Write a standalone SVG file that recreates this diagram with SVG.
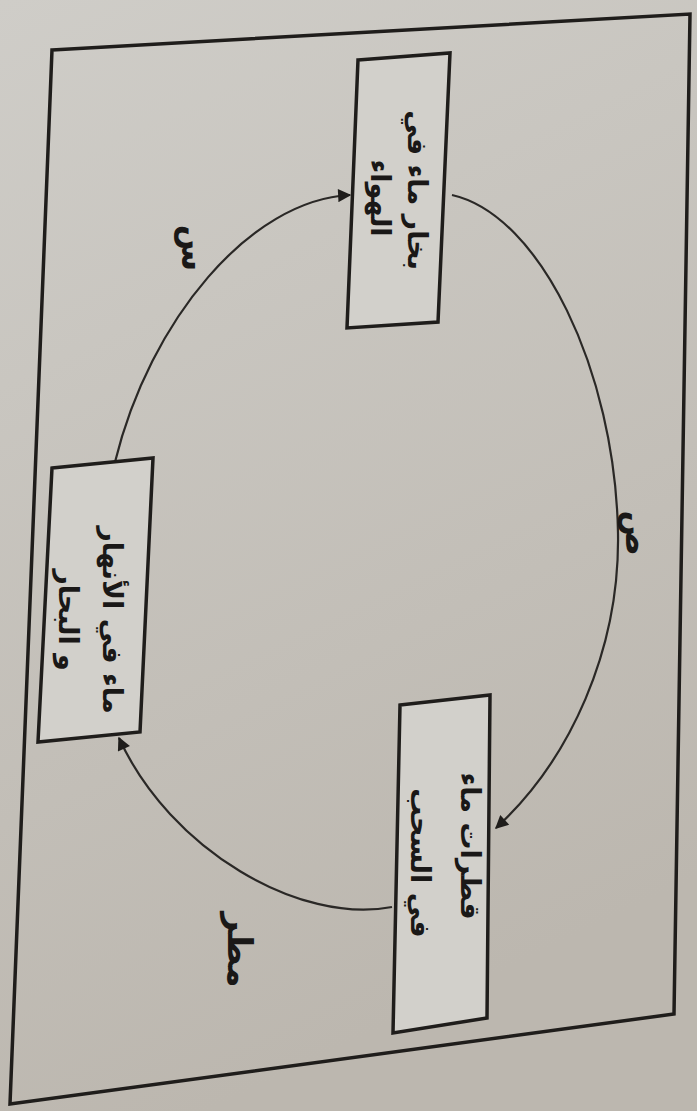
<svg xmlns="http://www.w3.org/2000/svg" width="697" height="1111" viewBox="0 0 697 1111">
<defs>
<linearGradient id="bg" x1="0" y1="0" x2="0.3" y2="1">
<stop offset="0" stop-color="#cfcdc8"/>
<stop offset="1" stop-color="#bcb7af"/>
</linearGradient>
<marker id="ah" viewBox="0 0 10 10" refX="9" refY="5" markerWidth="7" markerHeight="6" orient="auto" markerUnits="strokeWidth">
<path d="M0,0 L10,5 L0,10 z" fill="#1f1d1b"/>
</marker>
<style>
.frame{fill:none;stroke:#1f1d1b;stroke-width:3.5;stroke-linejoin:miter}
.box{fill:#d2d0cb;stroke:#1f1d1b;stroke-width:3.5}
.arc{fill:none;stroke:#2a2826;stroke-width:2.2}
.t{font-family:"DejaVu Sans",sans-serif;font-weight:bold;font-size:27px;fill:#1a1817;text-anchor:middle;dominant-baseline:central}
.lbl{font-family:"DejaVu Sans",sans-serif;font-weight:bold;font-size:34px;fill:#1a1817;text-anchor:middle;dominant-baseline:central}
</style>
</defs>
<rect width="697" height="1111" fill="url(#bg)"/>
<polygon class="frame" points="52,50 690,14 674,1014 10,1104"/>
<g id="connectors">
<path class="arc" d="M115,462 C150,320 250,200 350,195" marker-end="url(#ah)"/>
<path class="arc" d="M452,195 C540,215 615,370 618,533 C620,650 570,760 496,828" marker-end="url(#ah)"/>
<path class="arc" d="M392,907 C300,925 170,850 119,738" marker-end="url(#ah)"/>
<text class="lbl" transform="translate(194,248) rotate(90)">س</text>
<text class="lbl" transform="translate(638,533) rotate(90)">ص</text>
<text class="lbl" transform="translate(240,950) rotate(90)">مطر</text>
</g>
<g id="vapour">
<polygon class="box" points="358,60 450,53 438,322 347,328"/>
<text class="t" transform="translate(417,190) rotate(90)">بخار ماء في</text>
<text class="t" transform="translate(380,198) rotate(90)">الهواء</text>
</g>
<g id="rivers">
<polygon class="box" points="52,468 153,458 140,732 38,742"/>
<text class="t" transform="translate(112,620) rotate(90)">ماء في الأنهار</text>
<text class="t" transform="translate(68,620) rotate(90)">و البحار</text>
</g>
<g id="clouds">
<polygon class="box" points="400,705 490,695 487,1018 393,1033"/>
<text class="t" transform="translate(470,846) rotate(90)">قطرات ماء</text>
<text class="t" transform="translate(420,863) rotate(90)">في السحب</text>
</g>
</svg>
